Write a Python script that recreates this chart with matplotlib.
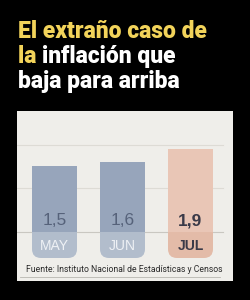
import matplotlib
matplotlib.use("Agg")
import matplotlib.pyplot as plt
from matplotlib.patches import FancyBboxPatch, Rectangle

months = ["MAY", "JUN", "JUL"]
values = [1.5, 1.6, 1.9]
value_labels = ["1,5", "1,6", "1,9"]
gridlines = [1, 2]
source = "Fuente: Instituto Nacional de Estadísticas y Censos"
title_lines = [[("El extraño caso de", "#f2d35a")],
               [("la ", "#f2d35a"), ("inflación que", "#ffffff")],
               [("baja para arriba", "#ffffff")]]

bar_colors = ["#97a5bb", "#97a5bb", "#e9c6b6"]
label_box_colors = ["#b2bdcc", "#b2bdcc", "#e3bba8"]
value_colors = ["#56627a", "#56627a", "#3a3a48"]
value_weights = ["normal", "normal", "bold"]
month_colors = ["#eef1f5", "#eef1f5", "#3a3a48"]

W, H = 251, 300
fig = plt.figure(figsize=(W / 100, H / 100), dpi=100)
fig.patch.set_facecolor("black")

# title
baselines = [38, 63, 88]
renderer = fig.canvas.get_renderer()
for line, yb in zip(title_lines, baselines):
    x = 18
    for txt, col in line:
        t = fig.text(x / W, 1 - yb / H, txt, color=col, fontsize=16.5,
                     fontweight=900, family="Roboto", va="baseline", ha="left")
        bb = t.get_window_extent(renderer=renderer)
        x += bb.width

# panel axes
left, right, top, bottom = 17, 233, 111, 281
ax = fig.add_axes([left / W, 1 - bottom / H, (right - left) / W, (bottom - top) / H])
ax.set_facecolor("#efeeea")
pxu_x = 68.0
pxu_y = 43.7
base_px = 232
ax.set_xlim(-(54.5 - left) / pxu_x, -(54.5 - left) / pxu_x + (right - left) / pxu_x)
ax.set_ylim(-(bottom - base_px) / pxu_y, (base_px - top) / pxu_y)
for s in ax.spines.values():
    s.set_visible(False)
ax.set_xticks([])
ax.set_yticks([])

x0 = ax.get_xlim()[0]
xg_end = x0 + (223 - left) / pxu_x
for g in gridlines:
    ax.plot([x0, xg_end], [g, g], color="#dddbd5", lw=0.8, zorder=1)
ax.plot([x0, xg_end], [0, 0], color="#c9c7c1", lw=0.8, zorder=1)

bw = 45 / pxu_x
xs = list(range(len(months)))
ax.bar(xs, values, width=bw, color=bar_colors, zorder=2)

box_bottom = -(258 - base_px) / pxu_y
r = 9 / pxu_x
asp = pxu_x / pxu_y
for i, x in enumerate(xs):
    p = FancyBboxPatch((x - bw / 2, box_bottom), bw, -box_bottom,
                       boxstyle=f"round,pad=0,rounding_size={r}",
                       mutation_aspect=asp, fc=label_box_colors[i], ec="none", zorder=2)
    ax.add_patch(p)
    ax.add_patch(Rectangle((x - bw / 2, box_bottom / 2), bw, -box_bottom / 2,
                           fc=label_box_colors[i], ec="none", zorder=2))
    ax.text(x, 7 / pxu_y, value_labels[i], ha="center", va="baseline", fontsize=12.5,
            color=value_colors[i], fontweight=value_weights[i], family="Liberation Sans", zorder=3)
    ax.text(x, -(245.5 - base_px) / pxu_y, months[i], ha="center", va="center", fontsize=10,
            color=month_colors[i], fontweight=value_weights[i], family="Liberation Sans", zorder=3)

fig.text(26 / W, 1 - 270 / H, source, ha="left", va="center", fontsize=6.2,
         family="Roboto", color="#2a2a2a")
fig.add_artist(plt.Line2D([20 / W, 220 / W], [1 - 276.5 / H, 1 - 276.5 / H],
                          color="#b8b6b0", lw=0.6))

fig.savefig("out.png", dpi=100, facecolor="black")
